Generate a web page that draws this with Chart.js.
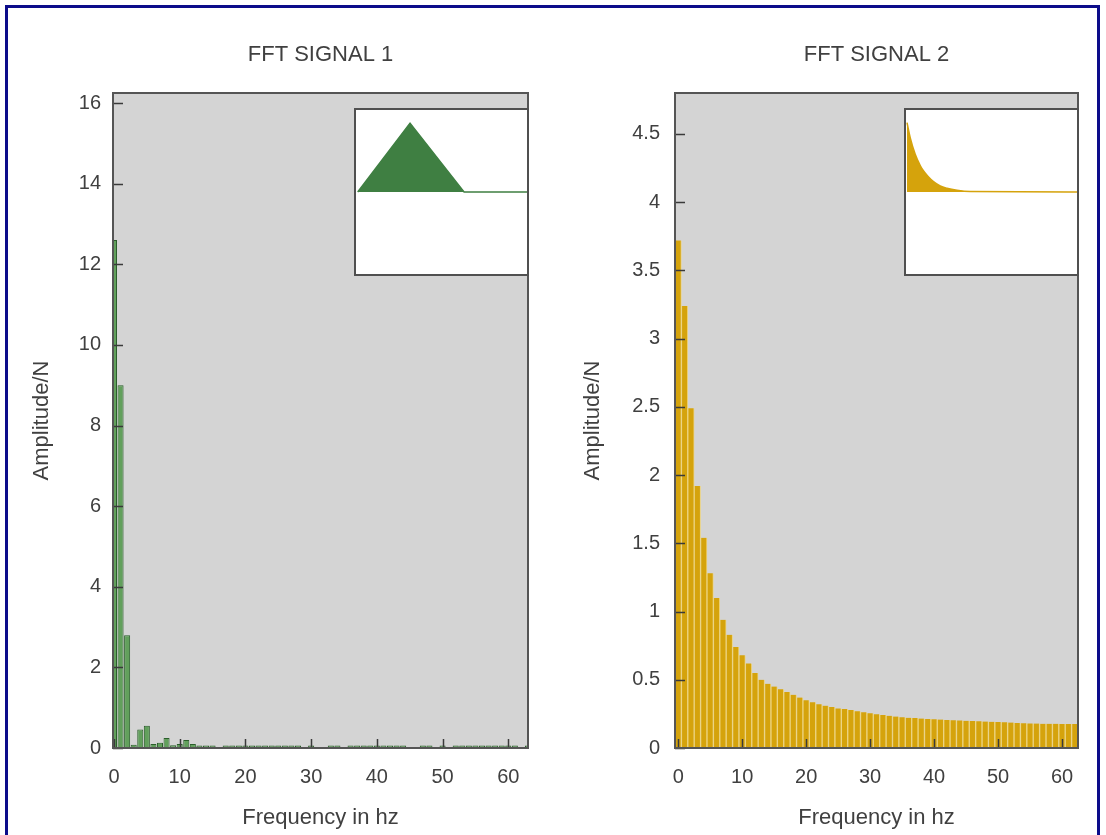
<!DOCTYPE html>
<html>
<head>
<meta charset="utf-8">
<title>FFT signals</title>
<script src="https://cdn.jsdelivr.net/npm/chart.js@4/dist/chart.umd.min.js"></script>
<style>
    html, body { margin: 0; padding: 0; background: #ffffff; }
    body { width: 1106px; height: 835px; position: relative; overflow: hidden; }
    .frame {
        position: absolute; left: 5px; top: 5px; width: 1095px; height: 900px;
        border: 3px solid #0c0c8a; box-sizing: border-box; pointer-events: none; z-index: 5;
    }
    #fftChart1 { position: absolute; left: 0; top: 0; }
    #fftChart2 { position: absolute; left: 560px; top: 0; }
    .inset {
        position: absolute; width: 175px; height: 168px; box-sizing: border-box;
        border: 2px solid #505050; background: #ffffff; z-index: 2;
    }
    .inset canvas { display: block; }
</style>
</head>
<body>
<div class="frame"></div>
<canvas id="fftChart1" width="560" height="835"></canvas>
<canvas id="fftChart2" width="546" height="835"></canvas>
<div class="inset" style="left:354px; top:108px;"><canvas id="signal1Inset" width="171" height="164"></canvas></div>
<div class="inset" style="left:904px; top:108px;"><canvas id="signal2Inset" width="171" height="164"></canvas></div>

<script>
// Frequencies (hz) of the FFT bins
const freqSignal1 = [0, 1, 2, 3, 4, 5, 6, 7, 8, 9, 10, 11, 12, 13, 14, 15, 16, 17, 18, 19, 20,
    21, 22, 23, 24, 25, 26, 27, 28, 29, 30, 31, 32, 33, 34, 35, 36, 37, 38, 39, 40, 41, 42,
    43, 44, 45, 46, 47, 48, 49, 50, 51, 52, 53, 54, 55, 56, 57, 58, 59, 60, 61, 62, 63];
const freqSignal2 = [0, 1, 2, 3, 4, 5, 6, 7, 8, 9, 10, 11, 12, 13, 14, 15, 16, 17, 18, 19, 20,
    21, 22, 23, 24, 25, 26, 27, 28, 29, 30, 31, 32, 33, 34, 35, 36, 37, 38, 39, 40, 41, 42,
    43, 44, 45, 46, 47, 48, 49, 50, 51, 52, 53, 54, 55, 56, 57, 58, 59, 60, 61, 62];

// Amplitude/N
const ampSignal1 = [12.6, 9.0, 2.8, 0.08, 0.46, 0.55, 0.1, 0.13, 0.25, 0.07,
    0.1, 0.2, 0.1, 0.06, 0.06, 0.06, 0, 0.06, 0.06, 0.06,
    0.06, 0.06, 0.06, 0.06, 0.06, 0.06, 0.06, 0.06, 0.06, 0,
    0.06, 0, 0, 0.06, 0.06, 0, 0.06, 0.06, 0.06, 0.06,
    0.06, 0.06, 0.06, 0.06, 0.06, 0, 0, 0.06, 0.06, 0,
    0.06, 0, 0.06, 0.06, 0.06, 0.06, 0.06, 0.06, 0.06, 0.06,
    0.06, 0.06, 0, 0.06];
const ampSignal2 = [3.72, 3.24, 2.49, 1.92, 1.54, 1.28, 1.10, 0.94, 0.83, 0.74,
    0.68, 0.62, 0.55, 0.50, 0.47, 0.45, 0.43, 0.41, 0.39, 0.37,
    0.35, 0.335, 0.32, 0.31, 0.30, 0.29, 0.285, 0.278, 0.27, 0.262,
    0.255, 0.248, 0.242, 0.236, 0.23, 0.225, 0.222, 0.219, 0.216, 0.213,
    0.21, 0.208, 0.206, 0.204, 0.202, 0.2, 0.198, 0.196, 0.194, 0.192,
    0.19, 0.188, 0.186, 0.184, 0.182, 0.18, 0.179, 0.178, 0.177, 0.177,
    0.176, 0.176, 0.176];

// Time-domain signals shown in the small insets (normalised time, amplitude)
const signal1Time = [0.01, 0.316, 0.632, 1];
const signal1Value = [0, 0.84, 0, 0];
const signal2Time = [0.006, 0.025, 0.054, 0.084, 0.103, 0.132, 0.161, 0.2, 0.239, 0.298, 0.376, 1];
const signal2Value = [0.845, 0.66, 0.46, 0.32, 0.256, 0.183, 0.126, 0.073, 0.045, 0.02, 0.005, 0];

const FONT = 'Liberation Sans';
const TEXT_COLOR = '#404040';
Chart.defaults.font.family = FONT;
Chart.defaults.color = TEXT_COLOR;

// Grey plot background, frame and inward tick marks (gnuplot look)
const plotFrame = {
    id: 'plotFrame',
    beforeDraw(chart) {
        const { ctx, chartArea: a } = chart;
        ctx.save();
        ctx.fillStyle = '#d4d4d4';
        ctx.fillRect(a.left, a.top, a.right - a.left, a.bottom - a.top);
        ctx.restore();
    },
    afterDraw(chart) {
        const { ctx, chartArea: a, scales } = chart;
        ctx.save();
        ctx.strokeStyle = '#3a3a3a';
        ctx.lineWidth = 1.5;
        ctx.beginPath();
        scales.y.ticks.forEach(t => {
            const py = Math.round(scales.y.getPixelForValue(t.value)) + 0.5;
            ctx.moveTo(a.left, py);
            ctx.lineTo(a.left + 10, py);
        });
        scales.x.ticks.forEach(t => {
            const px = Math.round(scales.x.getPixelForValue(t.value)) + 0.5;
            ctx.moveTo(px, a.bottom);
            ctx.lineTo(px, a.bottom - 9);
        });
        ctx.stroke();
        ctx.strokeStyle = '#555555';
        ctx.lineWidth = 2;
        ctx.strokeRect(a.left, a.top, a.right - a.left, a.bottom - a.top);
        ctx.restore();
    }
};

// Build one FFT bar chart
function createFftChart(canvasId, opts) {
    const data = opts.freq.map((f, i) => ({ x: f, y: opts.amp[i] }));
    return new Chart(document.getElementById(canvasId), {
        type: 'bar',
        data: {
            datasets: [{
                data: data,
                backgroundColor: opts.fill,
                borderColor: opts.border,
                borderWidth: opts.borderWidth,
                barPercentage: opts.barPercentage,
                categoryPercentage: 1,
                clip: 0
            }]
        },
        options: {
            responsive: false,
            animation: false,
            devicePixelRatio: 1,
            layout: { padding: { left: 0, right: opts.padRight, top: 0, bottom: 0 } },
            scales: {
                x: {
                    type: 'linear',
                    offset: false,
                    min: opts.xMin,
                    max: opts.xMax,
                    grid: { display: false, drawTicks: false },
                    border: { display: false },
                    ticks: { stepSize: 10, includeBounds: false, padding: 17, font: { size: 20 }, color: TEXT_COLOR },
                    title: { display: true, text: 'Frequency in hz', font: { size: 22 }, color: TEXT_COLOR, padding: { top: 0, bottom: 4 } },
                    afterFit: scale => { scale.height = 87; }
                },
                y: {
                    min: 0,
                    max: opts.yMax,
                    grid: { display: false, drawTicks: false },
                    border: { display: false },
                    ticks: {
                        stepSize: opts.yStep, includeBounds: false, padding: opts.yTickPad,
                        font: { size: 20 }, color: TEXT_COLOR,
                        callback: value => String(value)
                    },
                    title: { display: true, text: 'Amplitude/N', font: { size: 22 }, color: TEXT_COLOR, padding: { top: opts.yTitlePad, bottom: 0 } },
                    afterFit: scale => { scale.width = opts.yWidth; }
                }
            },
            plugins: {
                legend: { display: false },
                tooltip: { enabled: false },
                title: {
                    display: true,
                    text: opts.title,
                    fullSize: false,
                    color: TEXT_COLOR,
                    font: { size: 22, weight: 'normal' },
                    padding: { top: 42, bottom: 24.6 }
                }
            }
        },
        plugins: [plotFrame]
    });
}

// Build one small time-signal inset
function createInset(canvasId, times, values, color, smooth) {
    return new Chart(document.getElementById(canvasId), {
        type: 'line',
        data: {
            datasets: [{
                data: times.map((t, i) => ({ x: t, y: values[i] })),
                borderColor: color,
                backgroundColor: color,
                borderWidth: 1.5,
                pointRadius: 0,
                fill: 'origin',
                tension: 0,
                cubicInterpolationMode: smooth ? 'monotone' : 'default'
            }]
        },
        options: {
            responsive: false,
            animation: false,
            devicePixelRatio: 1,
            layout: { padding: 0 },
            scales: {
                x: { type: 'linear', min: 0, max: 1, display: false },
                y: { min: -1, max: 1, display: false }
            },
            plugins: { legend: { display: false }, tooltip: { enabled: false } }
        }
    });
}

createFftChart('fftChart1', {
    title: 'FFT SIGNAL 1',
    freq: freqSignal1, amp: ampSignal1,
    fill: '#62a05c', border: '#2b5e2b', borderWidth: 1, barPercentage: 0.92,
    xMin: -0.15, xMax: 63, yMax: 16.25, yStep: 2,
    padRight: 32, yWidth: 113, yTickPad: 12, yTitlePad: 29
});

createFftChart('fftChart2', {
    title: 'FFT SIGNAL 2',
    freq: freqSignal2, amp: ampSignal2,
    fill: '#d5a30c', border: '#ecd483',
    borderWidth: { left: 1, right: 1, top: 0, bottom: 0 }, barPercentage: 1,
    xMin: -0.5, xMax: 62.5, yMax: 4.8, yStep: 0.5,
    padRight: 28, yWidth: 115, yTickPad: 15, yTitlePad: 20
});

createInset('signal1Inset', signal1Time, signal1Value, '#3f7f42', false);
createInset('signal2Inset', signal2Time, signal2Value, '#d5a30c', true);
</script>
</body>
</html>
